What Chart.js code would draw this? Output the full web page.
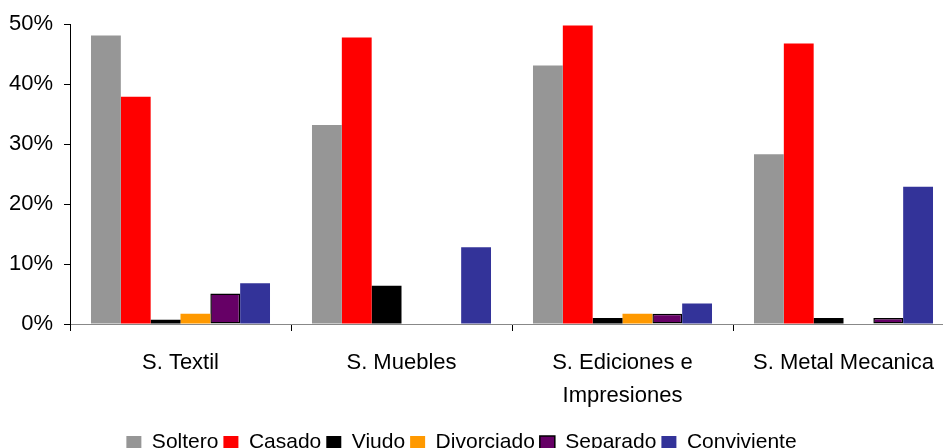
<!DOCTYPE html>
<html>
<head>
<meta charset="utf-8">
<script src="https://cdn.jsdelivr.net/npm/chart.js@4/dist/chart.umd.min.js"></script>
<style>
  html, body { margin: 0; padding: 0; background: #fff; overflow: hidden; }
  #wrap { width: 960px; height: 448px; }
</style>
</head>
<body>
<div id="wrap"><canvas id="estadoCivil" width="960" height="448"></canvas></div>
<script>
// Estado civil por sector (porcentaje)
const sectores = ['S. Textil', 'S. Muebles', ['S. Ediciones e', 'Impresiones'], 'S. Metal Mecanica'];
const soltero     = [48.1, 33.2, 43.1, 28.3];
const casado      = [37.9, 47.8, 49.8, 46.8];
const viudo       = [0.7, 6.4, 1.0, 1.0];
const divorciado  = [1.7, 0, 1.7, 0];
const separado    = [5.1, 0, 1.7, 1.0];
const conviviente = [6.8, 12.8, 3.4, 22.9];
const yTicks = [0, 10, 20, 30, 40, 50];

const fuente = 'Liberation Sans, Arial, sans-serif';

function serie(label, data, color, borde) {
    return {
        label: label,
        data: data,
        backgroundColor: color,
        borderColor: borde || color,
        borderWidth: borde ? 1.5 : 0,
        borderSkipped: false
    };
}

// move the legend a bit to the left
const moverLeyenda = {
    id: 'moverLeyenda',
    afterLayout(chart) {
        const lg = chart.legend;
        lg.left -= 20; lg.right -= 20;
    }
};

new Chart(document.getElementById('estadoCivil').getContext('2d'), {
    type: 'bar',
    data: {
        labels: sectores,
        datasets: [
            serie('Soltero', soltero, '#969696'),
            serie('Casado', casado, '#ff0000'),
            serie('Viudo', viudo, '#000000'),
            serie('Divorciado', divorciado, '#ff9900'),
            serie('Separado', separado, '#660066', '#000000'),
            serie('Conviviente', conviviente, '#333399')
        ]
    },
    options: {
        responsive: false,
        animation: false,
        layout: { padding: { left: 9, right: 6, top: 20, bottom: -15 } },
        datasets: {
            bar: { categoryPercentage: 0.81, barPercentage: 1.0 }
        },
        plugins: {
            tooltip: { enabled: false },
            legend: {
                position: 'bottom',
                labels: {
                    boxWidth: 15,
                    boxHeight: 13,
                    padding: 5,
                    color: '#000',
                    font: { family: fuente, size: 21 }
                }
            }
        },
        scales: {
            x: {
                grid: {
                    offset: true,
                    drawOnChartArea: false,
                    tickLength: 7,
                    color: '#000'
                },
                border: { color: '#888', width: 1 },
                ticks: {
                    color: '#000',
                    padding: 15,
                    maxRotation: 0,
                    autoSkip: false,
                    font: { family: fuente, size: 22, lineHeight: 1.5 }
                }
            },
            y: {
                min: 0,
                max: 50,
                afterBuildTicks(axis) { axis.ticks = yTicks.map(v => ({ value: v })); },
                afterFit(axis) { axis.width = 61; },
                grid: {
                    drawOnChartArea: false,
                    tickLength: 6,
                    color: '#000'
                },
                border: { color: '#000', width: 1 },
                ticks: {
                    color: '#000',
                    padding: 11,
                    font: { family: fuente, size: 22 },
                    callback: v => v + '%'
                }
            }
        }
    },
    plugins: [moverLeyenda]
});
</script>
</body>
</html>
